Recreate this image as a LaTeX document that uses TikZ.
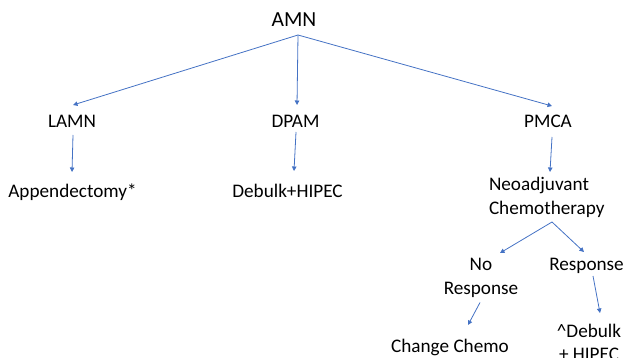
\documentclass[tikz,border=0pt]{standalone}
\usepackage{fontspec}
\setmainfont{Carlito}
\usetikzlibrary{arrows.meta,calc}
\definecolor{arrowblue}{RGB}{68,114,196}
\begin{document}
\begin{tikzpicture}[x=1pt,y=-1pt,
  lbl/.style={inner sep=0pt,outer sep=0pt,font=\fontsize{19.2}{23.5}\selectfont,anchor=base},
  conn/.style={draw=arrowblue,line width=0.8pt,-{Triangle[length=4.5pt,width=4.5pt]}}]
\useasboundingbox (0,0) rectangle (626,358);
\node[lbl,font=\fontsize{21.5}{25}\selectfont] (amn) at (294,27) {AMN};
\node[lbl] (lamn) at (72,128) {LAMN};
\node[lbl] (dpam) at (295.5,128) {DPAM};
\node[lbl] (pmca) at (548,128) {PMCA};
\node[lbl] (app) at (72.5,197) {Appendectomy*};
\node[lbl] (deb) at (287.5,197) {Debulk+HIPEC};
\node[lbl,anchor=base west,align=left] (neo) at (489,214.5) {Neoadjuvant\\Chemotherapy};
\node[lbl,align=center] (nores) at (481,294) {No\\Response};
\node[lbl] (resp) at (586.5,270) {Response};
\node[lbl] (change) at (450,352) {Change Chemo};
\node[lbl,align=center] (hipec) at (589,360.5) {\textasciicircum Debulk\\+ HIPEC};
\draw[conn] ($(amn.base)+(4,8)$) -- ($(lamn.base)+(1,-23)$);
\draw[conn] ($(amn.base)+(4,8)$) -- ($(dpam.base)+(1.5,-23)$);
\draw[conn] ($(amn.base)+(4,8)$) -- ($(pmca.base)+(4,-22)$);
\draw[conn] ($(lamn.base)+(1,7)$) -- ($(app.base)+(-0.5,-25)$);
\draw[conn] ($(dpam.base)+(0.5,4)$) -- ($(deb.base)+(6.5,-26)$);
\draw[conn] ($(pmca.base)+(4,9)$) -- ($(neo.base west)+(61,-42.5)$);
\draw[conn] ($(neo.base west)+(63,7.5)$) -- ($(nores.base)+(19,-41)$);
\draw[conn] ($(neo.base west)+(63,7.5)$) -- ($(resp.base)+(-2.5,-18)$);
\draw[conn] ($(nores.base)+(-1,8.5)$) -- ($(change.base)+(18,-27)$);
\draw[conn] ($(resp.base)+(6.5,6)$) -- ($(hipec.base)+(11,-47.5)$);
\end{tikzpicture}
\end{document}
